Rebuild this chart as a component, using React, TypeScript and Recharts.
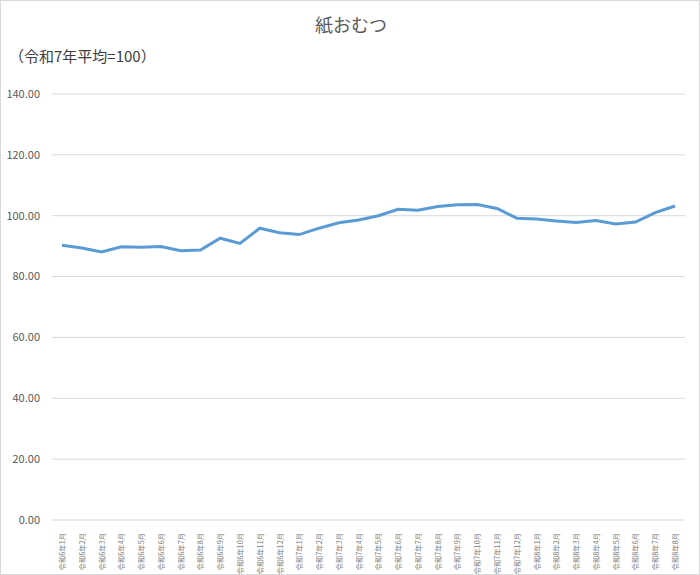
import React from "react";
import { LineChart, Line, XAxis, YAxis, CartesianGrid } from "recharts";

const months: string[] = [
  "令和6年1月", "令和6年2月", "令和6年3月", "令和6年4月", "令和6年5月", "令和6年6月",
  "令和6年7月", "令和6年8月", "令和6年9月", "令和6年10月", "令和6年11月", "令和6年12月",
  "令和7年1月", "令和7年2月", "令和7年3月", "令和7年4月", "令和7年5月", "令和7年6月",
  "令和7年7月", "令和7年8月", "令和7年9月", "令和7年10月", "令和7年11月", "令和7年12月",
  "令和8年1月", "令和8年2月", "令和8年3月", "令和8年4月", "令和8年5月", "令和8年6月",
  "令和8年7月", "令和8年8月",
];

const values: number[] = [
  90.3, 89.4, 88.1, 89.8, 89.6, 89.9, 88.5, 88.7, 92.6, 90.9, 95.9, 94.4,
  93.8, 95.9, 97.7, 98.6, 100.0, 102.1, 101.8, 103.0, 103.6, 103.7, 102.4, 99.2,
  98.9, 98.3, 97.8, 98.4, 97.3, 97.9, 101.0, 103.2,
];

const yTicks: number[] = [0, 20, 40, 60, 80, 100, 120, 140];

const title = "紙おむつ";
const subtitle = "（令和7年平均=100）";

const data = months.map((m, i) => ({ month: m, value: values[i] }));

const FONT = "'Noto Sans CJK JP', 'Noto Sans', sans-serif";

const XTick = (props: any) => {
  const { x, y, payload } = props;
  return (
    <text
      x={0}
      y={0}
      transform={`translate(${x + 3},${y + 5}) rotate(-90)`}
      textAnchor="end"
      fontSize={7.3}
      fill="#808080"
      fontFamily={FONT}
    >
      {payload.value}
    </text>
  );
};

export default function App() {
  return (
    <div
      style={{
        position: "absolute",
        left: 0,
        top: 0,
        width: 700,
        height: 575,
        background: "#fff",
        border: "1px solid #d9d9d9",
        boxSizing: "border-box",
        fontFamily: FONT,
      }}
    >
      <div
        style={{
          position: "absolute",
          top: 10,
          left: 0,
          width: 700,
          textAlign: "center",
          fontSize: 18,
          lineHeight: "26px",
          color: "#595959",
        }}
      >
        {title}
      </div>
      <div
        style={{
          position: "absolute",
          top: 44,
          left: 8,
          fontSize: 15,
          lineHeight: "22px",
          color: "#404040",
        }}
      >
        {subtitle}
      </div>
      <div style={{ position: "absolute", left: -1, top: -1 }}>
        <LineChart
          width={700}
          height={575}
          data={data}
          margin={{ top: 94, right: 15, bottom: 0, left: 0 }}
        >
          <CartesianGrid vertical={false} stroke="#d9d9d9" />
          <XAxis
            dataKey="month"
            interval={0}
            axisLine={false}
            tickLine={false}
            height={55}
            padding={{ left: 10, right: 10 }}
            tick={<XTick />}
          />
          <YAxis
            domain={[0, 140]}
            ticks={yTicks}
            width={52}
            axisLine={false}
            tickLine={false}
            tickFormatter={(v: number) => v.toFixed(2)}
            tick={{ fontSize: 11, fill: "#595959", fontFamily: FONT, dx: -4 }}
          />
          <Line
            type="linear"
            dataKey="value"
            stroke="#5B9BD5"
            strokeWidth={3}
            dot={false}
            isAnimationActive={false}
          />
        </LineChart>
      </div>
    </div>
  );
}
